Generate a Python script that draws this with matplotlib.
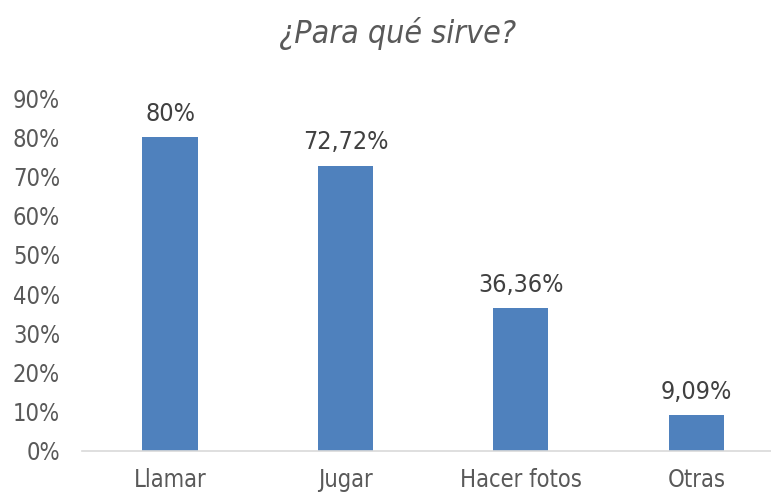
import matplotlib
matplotlib.use("Agg")
import matplotlib.pyplot as plt
from matplotlib.ticker import FuncFormatter

categories = ["Llamar", "Jugar", "Hacer fotos", "Otras"]
values = [0.80, 0.7272, 0.3636, 0.0909]
labels = ["80%", "72,72%", "36,36%", "9,09%"]
yticks = [0, 0.1, 0.2, 0.3, 0.4, 0.5, 0.6, 0.7, 0.8, 0.9]

plt.rcParams['font.family'] = ['DejaVu Sans']
plt.rcParams['font.stretch'] = 'condensed'
W, H = 771, 495
fig = plt.figure(figsize=(W/100, H/100), dpi=100)
left, right = 82.3, 784
bottom_px, top_px = 451, 98
ax = fig.add_axes([left/W, (H-bottom_px)/H, (right-left)/W, (bottom_px-top_px)/H])

x = range(len(categories))
bars = ax.bar(x, values, width=0.315, color="#4F81BD", zorder=2)
ax.set_xlim(-0.5, len(categories)-0.5)
ax.set_ylim(0, 0.9)
ax.set_yticks(yticks)
ax.yaxis.set_major_formatter(FuncFormatter(lambda v, p: f"{round(v*100)}%"))
ax.set_xticks(list(x))
ax.set_xticklabels(categories)
for s in ["top", "right", "left"]:
    ax.spines[s].set_visible(False)
ax.spines["bottom"].set_color("#D9D9D9")
ax.spines["bottom"].set_linewidth(1.2)
ax.tick_params(axis="both", length=0, labelsize=17, colors="#595959")
ax.tick_params(axis="x", pad=12)
ax.tick_params(axis="y", pad=16)
ax.set_facecolor("none")

for b, lab in zip(bars, labels):
    ax.annotate(lab, (b.get_x()+b.get_width()/2, b.get_height()), xytext=(0, 12),
                textcoords="offset points", ha="center", va="baseline",
                fontsize=18, color="#404040")

fig.text(398/W, 1-34/H, "¿Para qué sirve?", ha="center", va="center",
         fontsize=23, style="italic", color="#595959")

fig.savefig("out.png", dpi=100)
